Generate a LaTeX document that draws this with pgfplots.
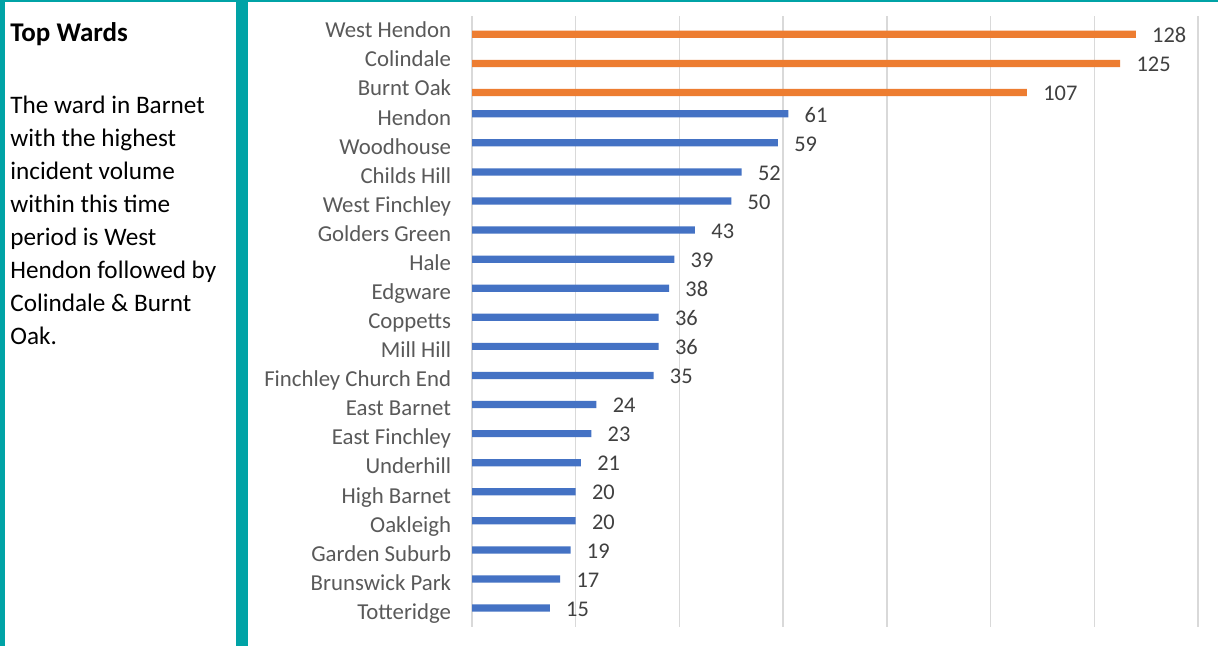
\documentclass[border=0pt]{standalone}
\usepackage{fontspec}
\setmainfont{Carlito}
\usepackage{pgfplots}
\pgfplotsset{compat=1.18}
\definecolor{tealc}{HTML}{00A3A6}
\definecolor{orangec}{HTML}{ED7D31}
\definecolor{bluec}{HTML}{4472C4}
\definecolor{gridc}{HTML}{D9D9D9}
\definecolor{labc}{HTML}{595959}
\definecolor{valc}{HTML}{404040}
\begin{document}
\begin{tikzpicture}
\useasboundingbox (0,0) rectangle (609pt,-323pt);
\fill[white] (0,0) rectangle (609pt,-323pt);
\fill[tealc] (0,0) rectangle (609pt,-1pt);
\fill[tealc] (0,0) rectangle (2.5pt,-323pt);
\fill[tealc] (118pt,0) rectangle (124.2pt,-323pt);
\node[anchor=base west, inner sep=0pt, font=\fontsize{13.5}{16.5}\selectfont\bfseries] at (5pt,-20.8pt) {Top Wards};
\foreach \t/\y in {The ward in Barnet/56.6, with the highest/73.1, incident volume/89.6, within this time/106.1, period is West/122.6, Hendon followed by/139.1, Colindale \& Burnt/155.6, Oak./172.1}
  \node[anchor=base west, inner sep=0pt, font=\fontsize{12.6}{16.5}\selectfont] at (5pt,-\y pt) {\t};
\begin{axis}[
  at={(236pt,-313.3pt)}, anchor=south west,
  scale only axis, width=363pt, height=305.3pt,
  xmin=0, xmax=140, ymin=-0.5, ymax=20.5,
  xtick={0,20,...,140}, xticklabels={},
  ytick={0,...,20},
  yticklabels={Totteridge,Brunswick Park,Garden Suburb,Oakleigh,High Barnet,Underhill,East Finchley,East Barnet,Finchley Church End,Mill Hill,Coppetts,Edgware,Hale,Golders Green,West Finchley,Childs Hill,Woodhouse,Hendon,Burnt Oak,Colindale,West Hendon},
  xmajorgrids,
  major grid style={gridc, line width=0.75pt},
  axis line style={draw=none},
  tick style={draw=none},
  yticklabel style={font=\fontsize{11.4}{13}\selectfont, text=labc, inner sep=0pt, xshift=-6pt, text height=7.3pt, text depth=0pt},
  xbar, bar width=3.6pt,
  nodes near coords,
  nodes near coords style={font=\fontsize{11.2}{13}\selectfont, text=valc, anchor=west, inner sep=0pt, xshift=8pt, yshift=-0.5pt},
  /pgf/number format/assume math mode=true,
]
\addplot[fill=orangec, draw=none, bar shift=-1.9pt] coordinates {(128,20) (125,19) (107,18)};
\addplot[fill=bluec, draw=none, bar shift=2pt] coordinates {(61,17) (59,16) (52,15) (50,14) (43,13) (39,12) (38,11) (36,10) (36,9) (35,8) (24,7) (23,6) (21,5) (20,4) (20,3) (19,2) (17,1) (15,0)};
\end{axis}
\end{tikzpicture}
\end{document}
